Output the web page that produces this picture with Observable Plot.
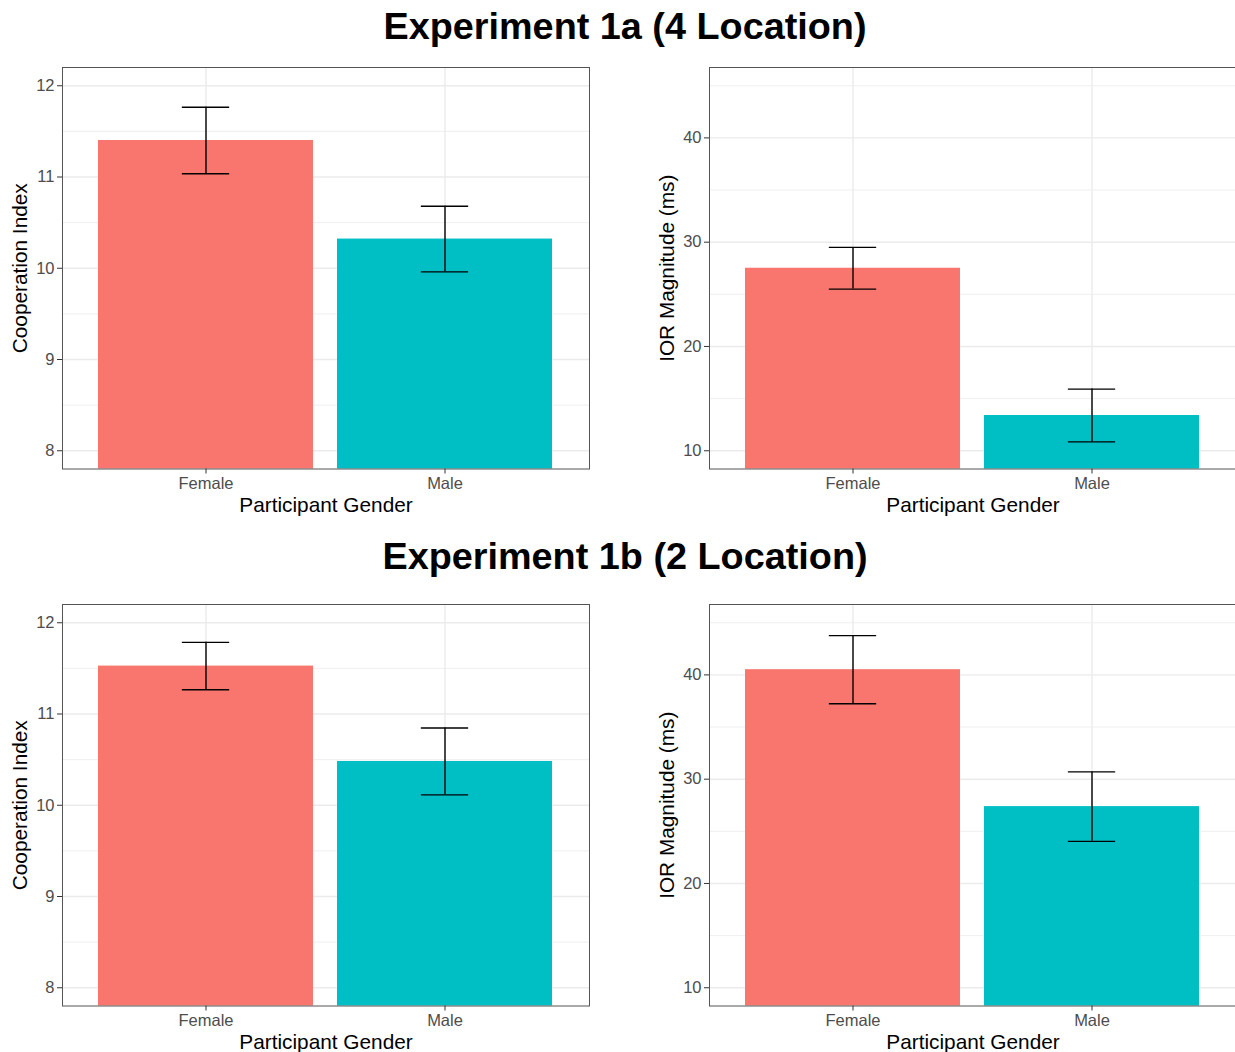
<!DOCTYPE html>
<html>
<head>
<meta charset="utf-8">
<script src="https://cdn.jsdelivr.net/npm/d3@7"></script>
<script src="https://cdn.jsdelivr.net/npm/@observablehq/plot@0.6"></script>
<style>
  html, body { margin: 0; padding: 0; background: white; width: 1235px; height: 1052px; overflow: hidden; position: relative; }
  body { font-family: "Liberation Sans", Arial, Helvetica, sans-serif; }
  .title { position: absolute; left: 0; width: 1250px; text-align: center; font-weight: bold; font-size: 37.8px; color: #000; line-height: 1; }
  .panel { position: absolute; width: 600px; }
</style>
</head>
<body>
<div class="title" id="t1" style="top:8px;">Experiment 1a (4 Location)</div>
<div class="title" id="t2" style="top:538px;">Experiment 1b (2 Location)</div>
<div class="panel" id="p1" style="left:0px; top:50px;"></div>
<div class="panel" id="p2" style="left:640px; top:50px;"></div>
<div class="panel" id="p3" style="left:0px; top:587px;"></div>
<div class="panel" id="p4" style="left:640px; top:587px;"></div>
<script>
// ---- data ----
const genders = ["Female", "Male"];
const genderColors = ["#F8766D", "#00BFC4"];

const coop1aMean = [11.40, 10.32];
const coop1aSE   = [0.365, 0.36];
const ior1aMean  = [27.5, 13.38];
const ior1aSE    = [2.0, 2.53];

const coop1bMean = [11.525, 10.48];
const coop1bSE   = [0.26, 0.366];
const ior1bMean  = [40.5, 27.37];
const ior1bSE    = [3.27, 3.33];

const coopTicks = [8, 9, 10, 11, 12];
const coopMinor = [8.5, 9.5, 10.5, 11.5];
const coopDomain = [7.8, 12.2];
const iorTicks = [10, 20, 30, 40];
const iorMinor = [15, 25, 35, 45];
const iorDomain = [8.25, 46.75];

const xTitle = "Participant Gender";
const coopTitle = "Cooperation Index";
const iorTitle = "IOR Magnitude (ms)";

function rows(means, ses) {
  return genders.map((g, i) => ({gender: g, mean: means[i], se: ses[i]}));
}

function panel({means, ses, ticks, minor, domain, ytitle, marginLeft, marginRight}) {
  const data = rows(means, ses);
  const width = 600, height = 465;
  const marginTop = 17, marginBottom = 46.5;
  const step = (width - marginLeft - marginRight) / 2.2;
  const capInset = 0.35 * step;
  return Plot.plot({
    width, height, marginTop, marginBottom, marginLeft, marginRight,
    style: {fontFamily: "'Liberation Sans', Arial, Helvetica, sans-serif", overflow: "visible", background: "white"},
    x: {type: "band", domain: genders, paddingInner: 0.1, paddingOuter: 0.15, label: null},
    y: {domain, label: null},
    color: {domain: genders, range: genderColors},
    marks: [
      Plot.gridY(minor, {stroke: "#ebebeb", strokeOpacity: 1, strokeWidth: 0.8}),
      Plot.gridY(ticks, {stroke: "#ebebeb", strokeOpacity: 1, strokeWidth: 1.4}),
      Plot.gridX({stroke: "#ebebeb", strokeOpacity: 1, strokeWidth: 1.4}),
      Plot.barY(data, {x: "gender", y: "mean", fill: "gender", clip: true}),
      Plot.ruleX(data, {x: "gender", y1: d => d.mean - d.se, y2: d => d.mean + d.se, stroke: "black", strokeWidth: 1.4}),
      Plot.tickY(data, {x: "gender", y: d => d.mean - d.se, stroke: "black", strokeWidth: 1.4, insetLeft: capInset, insetRight: capInset}),
      Plot.tickY(data, {x: "gender", y: d => d.mean + d.se, stroke: "black", strokeWidth: 1.4, insetLeft: capInset, insetRight: capInset}),
      Plot.frame({stroke: "#555", strokeWidth: 1}),
      Plot.axisY({ticks, tickFormat: d => String(d), tickSize: 5, tickPadding: 3, fontSize: 16.5, fill: "#4d4d4d", stroke: "#333", label: null}),
      Plot.axisX({tickSize: 5, tickPadding: 3, fontSize: 16.5, fill: "#4d4d4d", stroke: "#333", label: null}),
      Plot.text([ytitle], {frameAnchor: "left", rotate: -90, dx: -42, textAnchor: "middle", lineAnchor: "middle", fontSize: 20.8, fill: "black"}),
      Plot.text([xTitle], {frameAnchor: "bottom", dy: 36, textAnchor: "middle", lineAnchor: "middle", fontSize: 20.8, fill: "black"})
    ]
  });
}

document.getElementById("p1").appendChild(panel({means: coop1aMean, ses: coop1aSE, ticks: coopTicks, minor: coopMinor, domain: coopDomain, ytitle: coopTitle, marginLeft: 62, marginRight: 11}));
document.getElementById("p2").appendChild(panel({means: ior1aMean, ses: ior1aSE, ticks: iorTicks, minor: iorMinor, domain: iorDomain, ytitle: iorTitle, marginLeft: 69, marginRight: 4}));
document.getElementById("p3").appendChild(panel({means: coop1bMean, ses: coop1bSE, ticks: coopTicks, minor: coopMinor, domain: coopDomain, ytitle: coopTitle, marginLeft: 62, marginRight: 11}));
document.getElementById("p4").appendChild(panel({means: ior1bMean, ses: ior1bSE, ticks: iorTicks, minor: iorMinor, domain: iorDomain, ytitle: iorTitle, marginLeft: 69, marginRight: 4}));
</script>
</body>
</html>
